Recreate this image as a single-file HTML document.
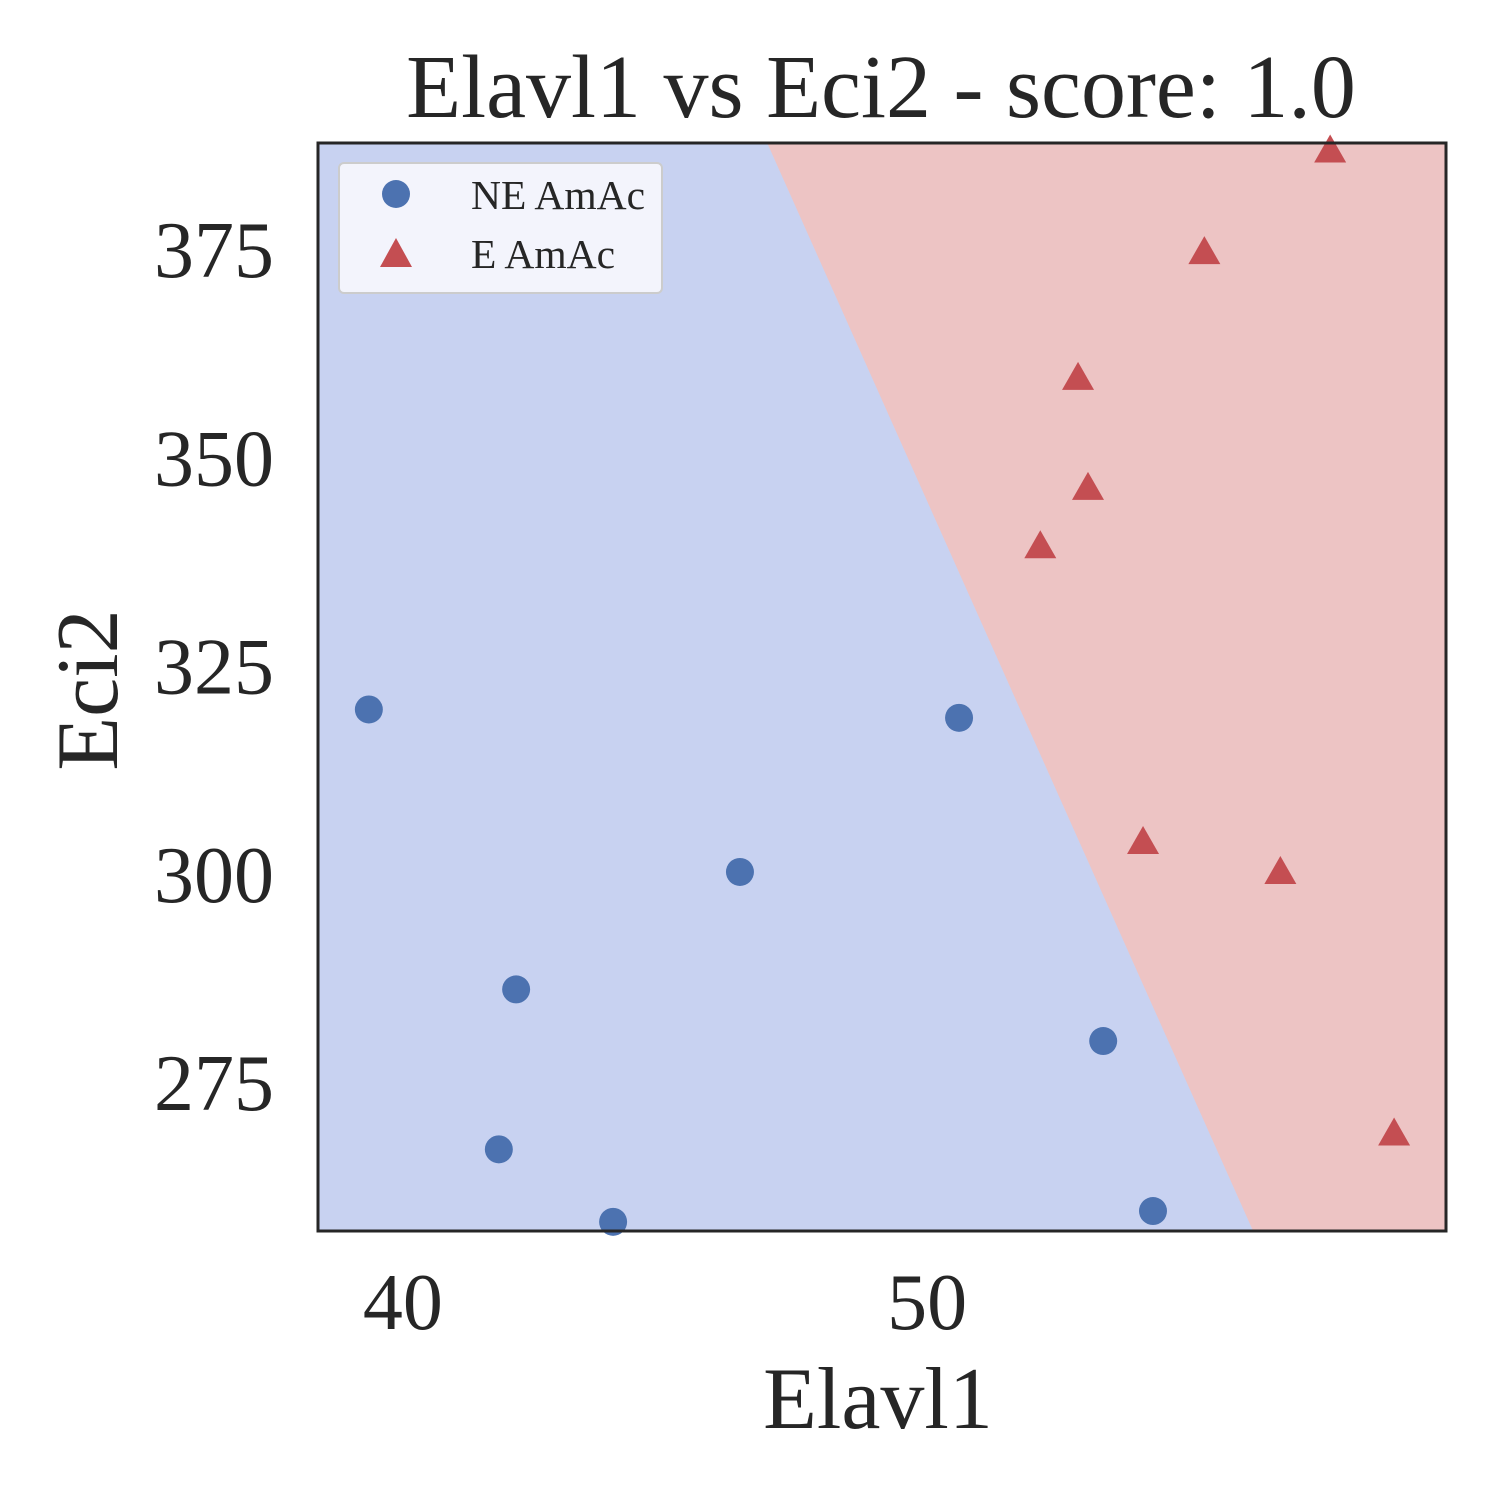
<!DOCTYPE html>
<html><head><meta charset="utf-8"><style>
html,body{margin:0;padding:0;background:#fff;}
svg{display:block;font-family:"Liberation Serif",serif;}
</style></head><body>
<svg id="chart" width="1500" height="1500" xmlns="http://www.w3.org/2000/svg"></svg>
<script>
const neX=[39.35,50.61,46.43,42.16,53.36,41.83,44.01,54.31];
const neY=[320.1,319.1,300.6,286.5,280.3,267.3,258.6,259.9];
const eX=[57.69,55.29,52.88,53.07,52.16,54.12,56.74,58.91];
const eY=[387.2,375.0,359.9,346.7,339.7,304.2,300.6,269.2];
const boundaryX=[46.95,56.22];
const boundaryY=[388.1,257.5];
const xTicks=[40,50];
const yTicks=[275,300,325,350,375];

const L=318,R=1446,T=143,B=1231;
const xmin=38.38,xmax=59.9,ymin=257.5,ymax=388.1;
const sx=v=>L+(v-xmin)/(xmax-xmin)*(R-L);
const sy=v=>B-(v-ymin)/(ymax-ymin)*(B-T);
const svg=document.getElementById('chart');
const NS='http://www.w3.org/2000/svg';
function mk(tag,attrs,parent){const e=document.createElementNS(NS,tag);for(const k in attrs)e.setAttribute(k,attrs[k]);(parent||svg).appendChild(e);return e;}

let e;
e=mk('rect',{x:L,y:T,width:R-L,height:B-T,fill:'#c8d2f1'});


const bx0=sx(boundaryX[0]),by0=sy(boundaryY[0]),bx1=sx(boundaryX[1]),by1=sy(boundaryY[1]);
e=mk('polygon',{points:`${bx0},${by0} ${R},${by0} ${R},${by1} ${bx1},${by1}`,fill:'#edc4c4'});



for(let i=0;i<neX.length;i++){
 e=mk('circle',{cx:sx(neX[i]),cy:sy(neY[i]),r:14,fill:'#4c72b0'});
 
 
}
for(let i=0;i<eX.length;i++){
 const x=sx(eX[i]),y=sy(eY[i]);
 e=mk('polygon',{points:`${x},${y-16} ${x-16},${y+12} ${x+16},${y+12}`,fill:'#c44e52'});
 
 
}
e=mk('rect',{x:L,y:T,width:R-L,height:B-T,fill:'none',stroke:'#262626','stroke-width':3});



for(const t of xTicks){
 e=mk('text',{x:sx(t),y:1329,'font-size':80,'text-anchor':'middle',fill:'#262626'});e.textContent=t;
 
 
}
for(const t of yTicks){
 e=mk('text',{x:274,y:sy(t)+25,'font-size':80,'text-anchor':'end',fill:'#262626'});e.textContent=t;
 
 
}
e=mk('text',{x:881,y:117,'font-size':90,'text-anchor':'middle',fill:'#262626'});e.textContent='Elavl1 vs Eci2 - score: 1.0';


e=mk('text',{x:878,y:1428,'font-size':88,'text-anchor':'middle',fill:'#262626'});e.textContent='Elavl1';


e=mk('text',{x:0,y:0,'font-size':88,'text-anchor':'middle',fill:'#262626',transform:'translate(117,690) rotate(-90)'});e.textContent='Eci2';



const lg=mk('g',{});


mk('rect',{x:339,y:163,width:323,height:130,rx:5,fill:'#f3f4fc',stroke:'#cccccc','stroke-width':2},lg);
mk('circle',{cx:396,cy:194,r:14,fill:'#4c72b0'},lg);
mk('polygon',{points:'396,238 380,267 412,267',fill:'#c44e52'},lg);
e=mk('text',{x:471,y:209,'font-size':41.5,fill:'#262626'},lg);e.textContent='NE AmAc';


e=mk('text',{x:471,y:268,'font-size':41.5,fill:'#262626'},lg);e.textContent='E AmAc';


</script>
</body></html>
